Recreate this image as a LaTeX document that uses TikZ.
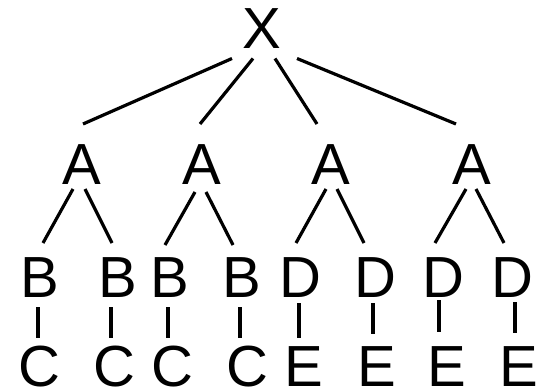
\documentclass[tikz,border=0pt]{standalone}
\usepackage{fontspec}
\setmainfont{Liberation Sans}
\usetikzlibrary{calc}
\begin{document}
\begin{tikzpicture}[x=1pt,y=1pt,
  lbl/.style={inner sep=0pt,anchor=base,font=\fontsize{58}{58}\selectfont},
  edge/.style={line width=3.2pt}]
\useasboundingbox (0,0) rectangle (537,389);
\node[lbl] (X) at (261.5,340) {X};
\node[lbl] (A1) at (82,205) {A};
\node[lbl] (A2) at (202,205) {A};
\node[lbl] (A3) at (331,205) {A};
\node[lbl] (A4) at (472,205) {A};
\node[lbl] (B1) at (39.5,92) {B};
\node[lbl] (B2) at (117.5,92) {B};
\node[lbl] (B3) at (170,92) {B};
\node[lbl] (B4) at (242,92) {B};
\node[lbl] (D1) at (300,92) {D};
\node[lbl] (D2) at (375,92) {D};
\node[lbl] (D3) at (443,92) {D};
\node[lbl] (D4) at (512,92) {D};
\node[lbl] (C1) at (39,2.5) {C};
\node[lbl] (C2) at (114,2.5) {C};
\node[lbl] (C3) at (172,2.5) {C};
\node[lbl] (C4) at (247,2.5) {C};
\node[lbl] (E1) at (304,2.5) {E};
\node[lbl] (E2) at (377,2.5) {E};
\node[lbl] (E3) at (447,2.5) {E};
\node[lbl] (E4) at (519,2.5) {E};
% X to A
\draw[edge] ($(X.base)+(-29.5,-9.5)$) -- ($(A1.base)+(1,60)$);
\draw[edge] ($(X.base)+(-8.5,-9.5)$) -- ($(A2.base)+(-2,60)$);
\draw[edge] ($(X.base)+(13.5,-9.5)$) -- ($(A3.base)+(-14,60)$);
\draw[edge] ($(X.base)+(35.5,-9.5)$) -- ($(A4.base)+(-16,60)$);
% A to B/D
\draw[edge] ($(A1.base)+(-9,-5)$) -- ($(B1.base)+(3.5,54)$);
\draw[edge] ($(A1.base)+(3,-5)$) -- ($(B2.base)+(-5.5,54)$);
\draw[edge] ($(A2.base)+(-7,-8)$) -- ($(B3.base)+(-5,52)$);
\draw[edge] ($(A2.base)+(4,-8)$) -- ($(B4.base)+(-9,52)$);
\draw[edge] ($(A3.base)+(-5,-5)$) -- ($(D1.base)+(-4,54)$);
\draw[edge] ($(A3.base)+(6,-5)$) -- ($(D2.base)+(-11,54)$);
\draw[edge] ($(A4.base)+(-6,-5)$) -- ($(D3.base)+(-8,54)$);
\draw[edge] ($(A4.base)+(4,-5)$) -- ($(D4.base)+(-8,54)$);
% B to C
\draw[edge] ($(B1.base)+(-1.5,-10)$) -- ($(C1.base)+(-1,48.5)$);
\draw[edge] ($(B2.base)+(-6.5,-10)$) -- ($(C2.base)+(-3,48.5)$);
\draw[edge] ($(B3.base)+(-2,-10)$) -- ($(C3.base)+(-4,48.5)$);
\draw[edge] ($(B4.base)+(-2,-10)$) -- ($(C4.base)+(-7,48.5)$);
% D to E
\draw[edge] ($(D1.base)+(-1,-6)$) -- ($(E1.base)+(-5,48.5)$);
\draw[edge] ($(D2.base)+(-2,-6)$) -- ($(E2.base)+(-4,52.5)$);
\draw[edge] ($(D3.base)+(-4,-3)$) -- ($(E3.base)+(-8,54.5)$);
\draw[edge] ($(D4.base)+(3,-5)$) -- ($(E4.base)+(-4,53.5)$);
\end{tikzpicture}
\end{document}
